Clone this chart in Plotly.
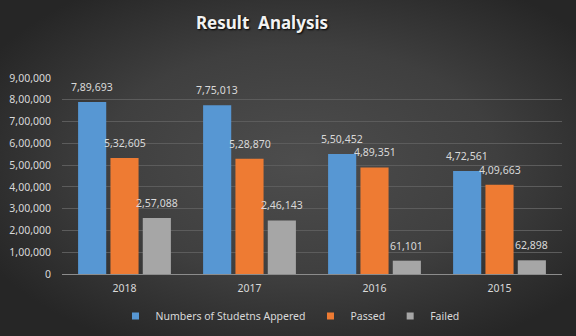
import base64
import plotly.graph_objects as go

# Results per year
years = ["2018", "2017", "2016", "2015"]
appeared = [789693, 775013, 550452, 472561]
passed = [532605, 528870, 489351, 409663]
failed = [257088, 246143, 61101, 62898]

series_names = ["Numbers of Studetns Appered", "Passed", "Failed"]
series_colors = ["#5797d3", "#ee7b33", "#a6a6a6"]

y_tickvals = [0, 100000, 200000, 300000, 400000, 500000, 600000, 700000, 800000, 900000]
y_ticktext = ["0", "1,00,000", "2,00,000", "3,00,000", "4,00,000", "5,00,000",
              "6,00,000", "7,00,000", "8,00,000", "9,00,000"]


def indian_format(n):
    s = str(int(n))
    if len(s) <= 3:
        return s
    head, tail = s[:-3], s[-3:]
    parts = []
    while len(head) > 2:
        parts.insert(0, head[-2:])
        head = head[:-2]
    if head:
        parts.insert(0, head)
    return ",".join(parts) + "," + tail


W, H = 576, 336
L, R, T, B = 62, 14, 78, 62
plot_w, plot_h = W - L - R, H - T - B

BARGAP = 0.224
GROUPGAP = 0.13
TXT = "#d9d9d9"
FONT = "Noto Sans"

# radial background
svg = f"""<svg xmlns='http://www.w3.org/2000/svg' width='{W}' height='{H}'>
<defs><radialGradient id='g' cx='52%' cy='48%' r='62%'>
<stop offset='0%' stop-color='#4d4d4d'/>
<stop offset='55%' stop-color='#3f3f3f'/>
<stop offset='100%' stop-color='#262626'/>
</radialGradient></defs>
<rect width='{W}' height='{H}' fill='url(#g)'/></svg>"""
bg_uri = "data:image/svg+xml;base64," + base64.b64encode(svg.encode()).decode()

fig = go.Figure()
all_series = [appeared, passed, failed]
for name, vals, col in zip(series_names, all_series, series_colors):
    fig.add_trace(go.Bar(
        x=years, y=vals, name=name, legendgroup=name, showlegend=False,
        marker=dict(color=col, line=dict(width=0)),
    ))
# small square legend keys
for name, col in zip(series_names, series_colors):
    fig.add_trace(go.Scatter(
        x=[None], y=[None], mode="markers", name=name, legendgroup=name,
        marker=dict(symbol="square", size=7, color=col),
    ))

# value labels above each bar
slot = (1 - BARGAP) / len(all_series)
annotations = []
for j, vals in enumerate(all_series):
    off = (j - (len(all_series) - 1) / 2) * slot
    for i, v in enumerate(vals):
        annotations.append(dict(
            x=i + off, y=v, xref="x", yref="y",
            text=indian_format(v), showarrow=False,
            yanchor="bottom", yshift=6,
            font=dict(family=FONT, size=10.5, color=TXT),
        ))

fig.update_layout(
    width=W, height=H,
    margin=dict(l=L, r=R, t=T, b=B, pad=0, autoexpand=False),
    paper_bgcolor="#333333",
    plot_bgcolor="rgba(0,0,0,0)",
    barmode="group",
    bargap=BARGAP,
    bargroupgap=GROUPGAP,
    title=dict(
        text="Result  Analysis",
        x=262 / W, xanchor="center",
        y=1 - 23 / H, yanchor="middle",
        font=dict(family=FONT, size=17, color="#f2f2f2", weight="bold",
                  shadow="1px 1px 2px #000000"),
    ),
    font=dict(family=FONT, size=10.5, color=TXT),
    xaxis=dict(
        type="category",
        showgrid=False,
        showline=True, linecolor="#8c8c8c", linewidth=1,
        ticks="", tickfont=dict(family=FONT, size=10.5, color=TXT),
        ticklabelstandoff=4,
    ),
    yaxis=dict(
        range=[0, 900000],
        tickvals=y_tickvals, ticktext=y_ticktext,
        showgrid=True, gridcolor="#5c5c5c", gridwidth=1,
        zeroline=False, showline=False,
        ticks="", tickfont=dict(family=FONT, size=10.5, color=TXT),
        ticklabelstandoff=10,
    ),
    legend=dict(
        orientation="h",
        x=(290 - L) / plot_w, xanchor="center",
        y=(T + plot_h - 316) / plot_h, yanchor="middle",
        font=dict(family=FONT, size=10.5, color=TXT),
        bgcolor="rgba(0,0,0,0)",
        itemwidth=30,
        traceorder="normal",
    ),
    annotations=annotations,
    images=[dict(
        source=bg_uri, xref="paper", yref="paper",
        x=-L / plot_w, y=1 + T / plot_h,
        sizex=W / plot_w, sizey=H / plot_h,
        sizing="stretch", layer="below", xanchor="left", yanchor="top",
    )],
)

fig.write_html("out.html")
